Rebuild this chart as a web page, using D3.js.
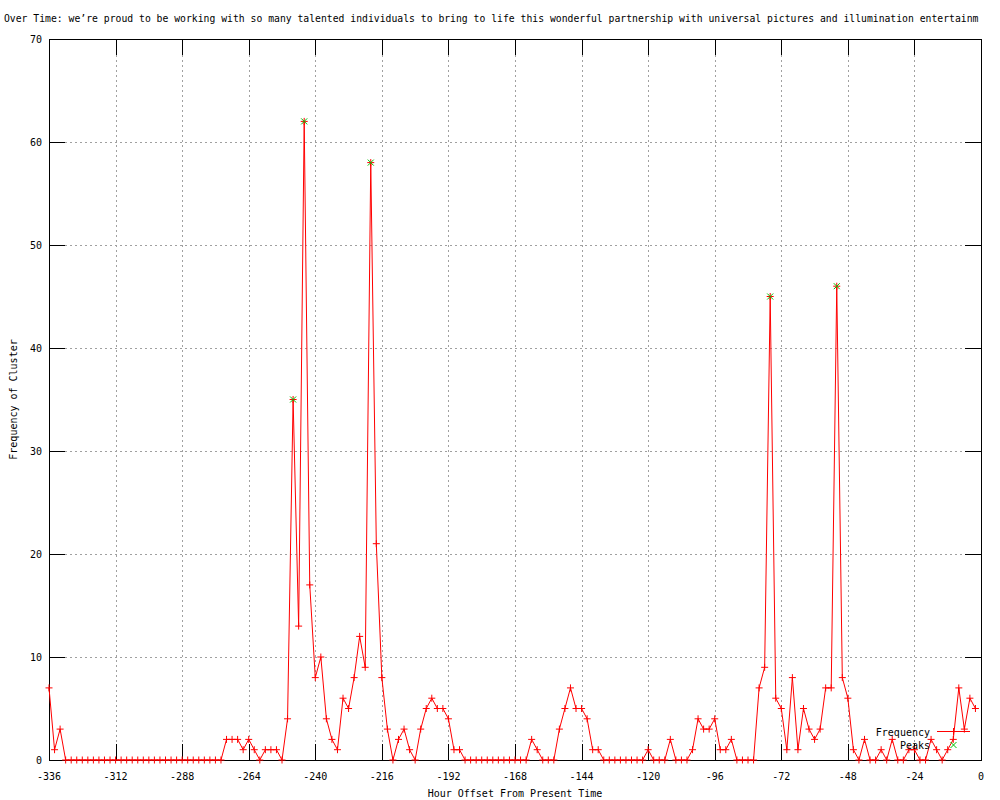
<!DOCTYPE html>
<html>
<head>
<meta charset="utf-8">
<script src="https://cdn.jsdelivr.net/npm/d3@7"></script>
<style>
  body { margin: 0; background: #fff; }
  svg { display: block; font-family: "DejaVu Sans Mono", monospace; font-size: 10px; }
</style>
</head>
<body>
<svg id="chart" width="1000" height="800"></svg>
<script>
// cluster frequency, one value every 2 hours starting at -336
const startHour = -336
const stepHours = 2
const frequency = [
  7, 1, 3, 0, 0, 0, 0, 0, 0, 0, 0, 0, 0, 0, 0, 0, 0, 0, 0, 0,
  0, 0, 0, 0, 0, 0, 0, 0, 0, 0, 0, 0, 2, 2, 2, 1, 2, 1, 0, 1,
  1, 1, 0, 4, 35, 13, 62, 17, 8, 10, 4, 2, 1, 6, 5, 8, 12, 9, 58, 21,
  8, 3, 0, 2, 3, 1, 0, 3, 5, 6, 5, 5, 4, 1, 1, 0, 0, 0, 0, 0,
  0, 0, 0, 0, 0, 0, 0, 2, 1, 0, 0, 0, 3, 5, 7, 5, 5, 4, 1, 1,
  0, 0, 0, 0, 0, 0, 0, 0, 1, 0, 0, 0, 2, 0, 0, 0, 1, 4, 3, 3,
  4, 1, 1, 2, 0, 0, 0, 0, 7, 9, 45, 6, 5, 1, 8, 1, 5, 3, 2, 3,
  7, 7, 46, 8, 6, 1, 0, 2, 0, 0, 1, 0, 2, 0, 0, 1, 1, 0, 0, 2,
  1, 0, 1, 2, 7, 3, 6, 5
]
const peakHours = [-248, -244, -220, -76, -52]
const peakValues = [35, 62, 58, 45, 46]

const xTicks = [-336, -312, -288, -264, -240, -216, -192, -168, -144, -120, -96, -72, -48, -24, 0]
const yTicks = [0, 10, 20, 30, 40, 50, 60, 70]

const titleText = "Over Time: we\u2019re proud to be working with so many talented individuals to bring to life this wonderful partnership with universal pictures and illumination entertainm"

const svg = d3.select("#chart")
const plotLeft = 49, plotRight = 981, plotTop = 39, plotBottom = 760
const tickLen = 16

const x = d3.scaleLinear().domain([-336, 0]).range([plotLeft, plotRight])
const y = d3.scaleLinear().domain([0, 70]).range([plotBottom, plotTop])

const data = frequency.map((v, i) => ({ h: startHour + i * stepHours, v: v }))
const peaks = peakHours.map((h, i) => ({ h: h, v: peakValues[i] }))

// title (the source cuts it at the right edge)
svg.append("text")
  .attr("x", 4)
  .attr("y", 22)
  .style("font-size", "9.75px")
  .text(titleText)

// grid
let grid = svg.append("g")
  .attr("stroke", "#a0a0a0")
  .attr("stroke-dasharray", "2,3")
  .attr("shape-rendering", "crispEdges")

grid.selectAll(".gx")
  .data(xTicks.slice(1, -1))
  .enter()
  .append("line")
  .attr("x1", d => Math.round(x(d)) + 0.5)
  .attr("x2", d => Math.round(x(d)) + 0.5)
  .attr("y1", plotTop + tickLen)
  .attr("y2", plotBottom - tickLen)

grid.selectAll(".gy")
  .data(yTicks.slice(1, -1))
  .enter()
  .append("line")
  .attr("x1", plotLeft + tickLen)
  .attr("x2", plotRight - tickLen)
  .attr("y1", d => Math.round(y(d)) + 0.5)
  .attr("y2", d => Math.round(y(d)) + 0.5)

// ticks on all four sides, inward
let ticks = svg.append("g")
  .attr("stroke", "#000")
  .attr("shape-rendering", "crispEdges")

xTicks.forEach(t => {
  let px = Math.round(x(t)) + 0.5
  ticks.append("line").attr("x1", px).attr("x2", px).attr("y1", plotBottom).attr("y2", plotBottom - tickLen)
  ticks.append("line").attr("x1", px).attr("x2", px).attr("y1", plotTop).attr("y2", plotTop + tickLen)
})
yTicks.forEach(t => {
  let py = Math.round(y(t)) + 0.5
  ticks.append("line").attr("x1", plotLeft).attr("x2", plotLeft + tickLen).attr("y1", py).attr("y2", py)
  ticks.append("line").attr("x1", plotRight).attr("x2", plotRight - tickLen).attr("y1", py).attr("y2", py)
})

// frame
svg.append("rect")
  .attr("x", plotLeft + 0.5)
  .attr("y", plotTop + 0.5)
  .attr("width", plotRight - plotLeft)
  .attr("height", plotBottom - plotTop)
  .attr("fill", "none")
  .attr("stroke", "#000")
  .attr("shape-rendering", "crispEdges")

// tick labels
svg.append("g").selectAll("text")
  .data(xTicks)
  .enter()
  .append("text")
  .attr("x", d => x(d))
  .attr("y", plotBottom + 20)
  .attr("text-anchor", "middle")
  .text(d => d)

svg.append("g").selectAll("text")
  .data(yTicks)
  .enter()
  .append("text")
  .attr("x", plotLeft - 7)
  .attr("y", d => y(d) + 4)
  .attr("text-anchor", "end")
  .text(d => d)

// axis titles
svg.append("text")
  .attr("x", (plotLeft + plotRight) / 2)
  .attr("y", 797)
  .attr("text-anchor", "middle")
  .text("Hour Offset From Present Time")

svg.append("text")
  .attr("transform", "translate(17," + ((plotTop + plotBottom) / 2) + ") rotate(-90)")
  .attr("text-anchor", "middle")
  .text("Frequency of Cluster")

// frequency line
let line = d3.line()
  .x(d => x(d.h))
  .y(d => y(d.v))

svg.append("path")
  .datum(data)
  .attr("d", line)
  .attr("fill", "none")
  .attr("stroke", "#ff0000")
  .attr("stroke-width", 1)

function plus(sel, s) {
  return sel.append("path")
    .attr("d", d => `M${x(d.h) - s},${y(d.v)}H${x(d.h) + s}M${x(d.h)},${y(d.v) - s}V${y(d.v) + s}`)
}
function cross(sel, s) {
  return sel.append("path")
    .attr("d", d => `M${x(d.h) - s},${y(d.v) - s}L${x(d.h) + s},${y(d.v) + s}M${x(d.h) - s},${y(d.v) + s}L${x(d.h) + s},${y(d.v) - s}`)
}

let pts = svg.append("g")
  .attr("stroke", "#ff0000")
  .attr("fill", "none")
  .selectAll("g")
  .data(data)
  .enter()
  .append("g")
plus(pts, 3.5)

let pk = svg.append("g")
  .attr("stroke", "#00c000")
  .attr("fill", "none")
  .selectAll("g")
  .data(peaks)
  .enter()
  .append("g")
cross(pk, 3)

// legend
let legend = svg.append("g")
legend.append("text")
  .attr("x", 930)
  .attr("y", 736)
  .attr("text-anchor", "end")
  .text("Frequency")
legend.append("line")
  .attr("x1", 937).attr("x2", 970)
  .attr("y1", 731.5).attr("y2", 731.5)
  .attr("stroke", "#ff0000")
legend.append("path")
  .attr("d", "M950,731.5H957M953.5,728V735")
  .attr("stroke", "#ff0000")
legend.append("text")
  .attr("x", 930)
  .attr("y", 749)
  .attr("text-anchor", "end")
  .text("Peaks")
legend.append("path")
  .attr("d", "M950.5,742L956.5,748M950.5,748L956.5,742")
  .attr("stroke", "#00c000")
</script>
</body>
</html>
